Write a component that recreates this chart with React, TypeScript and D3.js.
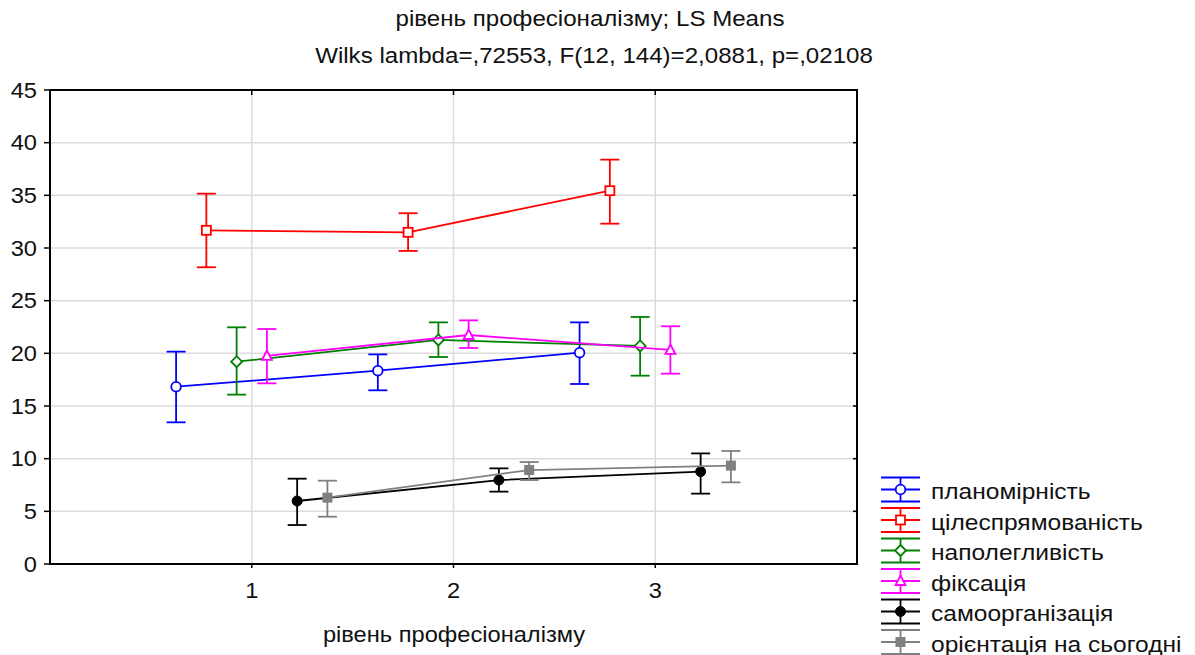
import React from "react";
import * as d3 from "d3";

const categories = [1, 2, 3];
const seriesNames = [
  "планомірність",
  "цілеспрямованість",
  "наполегливість",
  "фіксація",
  "самоорганізація",
  "орієнтація на сьогодні",
];
const seriesColors = ["#0000ff", "#ff0000", "#008000", "#ff00ff", "#000000", "#808080"];
const seriesMarkers = ["circle", "square", "diamond", "triangle", "dot", "filledSquare"];
const seriesOffsets = [-0.375, -0.225, -0.075, 0.075, 0.225, 0.375];

const meanPlan = [16.83, 18.35, 20.06];
const upperPlan = [20.16, 19.9, 22.94];
const lowerPlan = [13.45, 16.49, 17.09];

const meanTsil = [31.68, 31.49, 35.44];
const upperTsil = [35.16, 33.3, 38.39];
const lowerTsil = [28.17, 29.72, 32.31];

const meanNapol = [19.21, 21.27, 20.7];
const upperNapol = [22.47, 22.94, 23.45];
const lowerNapol = [16.08, 19.65, 17.88];

const meanFiks = [19.75, 21.74, 20.32];
const upperFiks = [22.31, 23.13, 22.57];
const lowerFiks = [17.15, 20.51, 18.07];

const meanSamo = [5.98, 7.97, 8.77];
const upperSamo = [8.1, 9.08, 10.5];
const lowerSamo = [3.7, 6.87, 6.68];

const meanOrient = [6.3, 8.92, 9.34];
const upperOrient = [7.91, 9.68, 10.73];
const lowerOrient = [4.49, 7.97, 7.75];

const yTicks = [0, 5, 10, 15, 20, 25, 30, 35, 40, 45];
const titleLine1 = "рівень професіоналізму; LS Means";
const titleLine2 = "Wilks lambda=,72553, F(12, 144)=2,0881, p=,02108";
const xAxisLabel = "рівень професіоналізму";

const means = [meanPlan, meanTsil, meanNapol, meanFiks, meanSamo, meanOrient];
const uppers = [upperPlan, upperTsil, upperNapol, upperFiks, upperSamo, upperOrient];
const lowers = [lowerPlan, lowerTsil, lowerNapol, lowerFiks, lowerSamo, lowerOrient];

const W = 1195;
const H = 655;
const left = 50, right = 857, top = 90, bottom = 564;
const FONT = "'Liberation Sans', Arial, sans-serif";
const FS = 21.5;
const SX = 1.1;

function T({ x, y, anchor, children, size = FS }: { x: number; y: number; anchor?: string; children: any; size?: number }) {
  return (
    <text
      transform={`translate(${x},${y}) scale(${SX},1)`}
      textAnchor={anchor || "start"}
      fontSize={size}
      fill="#111"
    >
      {children}
    </text>
  );
}

function Marker({ type, x, y, color }: { type: string; x: number; y: number; color: string }) {
  const sw = 1.8;
  switch (type) {
    case "circle":
      return <circle cx={x} cy={y} r={4.8} fill="white" stroke={color} strokeWidth={sw} />;
    case "square":
      return <rect x={x - 4.5} y={y - 4.5} width={9} height={9} fill="white" stroke={color} strokeWidth={sw} />;
    case "diamond":
      return (
        <path d={`M${x},${y - 5.5}L${x + 5.5},${y}L${x},${y + 5.5}L${x - 5.5},${y}Z`} fill="white" stroke={color} strokeWidth={sw} />
      );
    case "triangle":
      return (
        <path d={`M${x},${y - 5.5}L${x + 5},${y + 4}L${x - 5},${y + 4}Z`} fill="white" stroke={color} strokeWidth={sw} />
      );
    case "dot":
      return <circle cx={x} cy={y} r={5} fill={color} stroke={color} strokeWidth={1} />;
    case "filledSquare":
      return <rect x={x - 5} y={y - 5} width={10} height={10} fill={color} />;
    default:
      return null;
  }
}

export default function App() {
  const x = d3.scaleLinear().domain([0, 4]).range([left, right]);
  const y = d3.scaleLinear().domain([0, 45]).range([bottom, top]);
  const line = d3.line<[number, number]>().x((d) => d[0]).y((d) => d[1]);
  const cap = 9.5;

  return (
    <svg width={W} height={H} style={{ position: "absolute", left: 0, top: 0, background: "white" }} fontFamily={FONT}>
      <rect x={0} y={0} width={W} height={H} fill="white" />
      <T x={590} y={26} anchor="middle" size={21.9}>{titleLine1}</T>
      <T x={594} y={63} anchor="middle" size={21.9}>{titleLine2}</T>

      {/* grid */}
      {yTicks.map((t) => (
        <line key={"gy" + t} x1={left} x2={right} y1={y(t)} y2={y(t)} stroke="#dcdcdc" strokeWidth={1.5} />
      ))}
      {categories.map((c) => (
        <line key={"gx" + c} x1={x(c)} x2={x(c)} y1={top} y2={bottom} stroke="#dcdcdc" strokeWidth={1.5} />
      ))}

      {/* series */}
      {seriesNames.map((name, si) => {
        const color = seriesColors[si];
        const pts: [number, number][] = categories.map((c, i) => [x(c + seriesOffsets[si]), y(means[si][i])]);
        return (
          <g key={name}>
            <path d={line(pts) || ""} fill="none" stroke={color} strokeWidth={1.8} />
            {categories.map((c, i) => {
              const cx = x(c + seriesOffsets[si]);
              const yu = y(uppers[si][i]);
              const yl = y(lowers[si][i]);
              return (
                <g key={i} stroke={color} strokeWidth={1.8}>
                  <line x1={cx} x2={cx} y1={yu} y2={yl} />
                  <line x1={cx - cap} x2={cx + cap} y1={yu} y2={yu} />
                  <line x1={cx - cap} x2={cx + cap} y1={yl} y2={yl} />
                </g>
              );
            })}
            {categories.map((c, i) => (
              <Marker key={"m" + i} type={seriesMarkers[si]} x={x(c + seriesOffsets[si])} y={y(means[si][i])} color={color} />
            ))}
          </g>
        );
      })}

      {/* frame */}
      <rect x={left} y={top} width={right - left} height={bottom - top} fill="none" stroke="black" strokeWidth={2} />
      {yTicks.map((t) => (
        <g key={"ty" + t}>
          <line x1={left - 6} x2={left} y1={y(t)} y2={y(t)} stroke="black" strokeWidth={1.5} />
          <line x1={right - 4} x2={right} y1={y(t)} y2={y(t)} stroke="black" strokeWidth={1.5} />
          <T x={37} y={y(t) + 7.5} anchor="end">{t}</T>
        </g>
      ))}
      {categories.map((c) => (
        <g key={"tx" + c}>
          <line x1={x(c)} x2={x(c)} y1={bottom} y2={bottom + 4} stroke="black" strokeWidth={1.5} />
          <line x1={x(c)} x2={x(c)} y1={top} y2={top + 5} stroke="black" strokeWidth={1.5} />
          <T x={x(c)} y={598} anchor="middle">{c}</T>
        </g>
      ))}
      <T x={454} y={642} anchor="middle">{xAxisLabel}</T>

      {/* legend */}
      {seriesNames.map((name, si) => {
        const cy = 489.5 + si * 30.5;
        const color = seriesColors[si];
        return (
          <g key={"lg" + name}>
            <g stroke={color} strokeWidth={1.8}>
              <line x1={881} x2={920} y1={cy - 12} y2={cy - 12} />
              <line x1={881} x2={920} y1={cy} y2={cy} />
              <line x1={881} x2={920} y1={cy + 12} y2={cy + 12} />
              <line x1={900.5} x2={900.5} y1={cy - 12} y2={cy + 12} />
            </g>
            <Marker type={seriesMarkers[si]} x={900.5} y={cy} color={color} />
            <T x={931} y={cy + 9.5} size={22.3}>{name}</T>
          </g>
        );
      })}
    </svg>
  );
}
